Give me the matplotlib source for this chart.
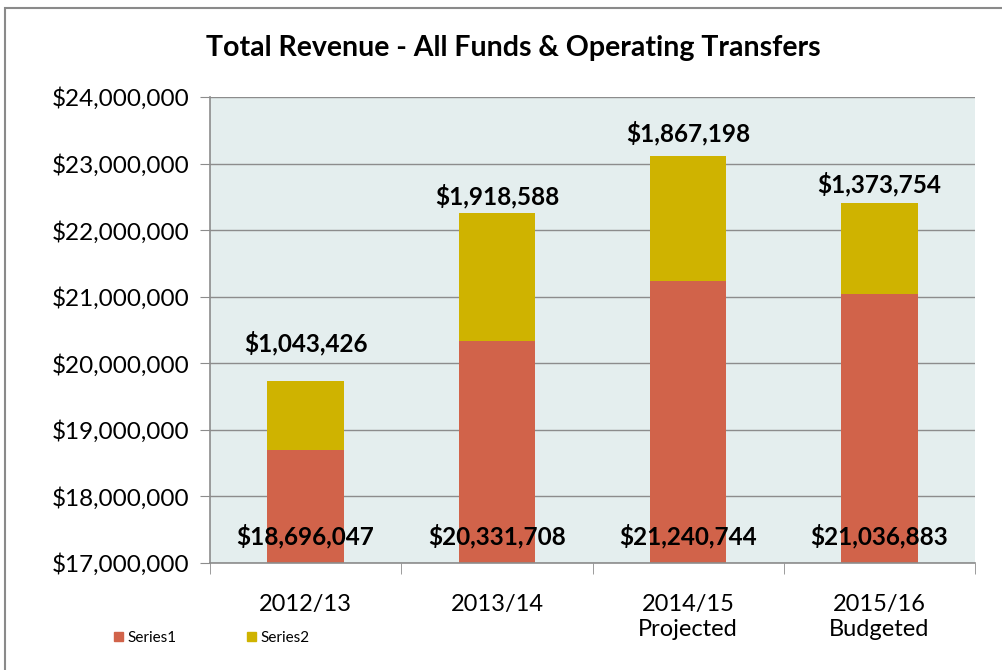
import matplotlib
matplotlib.use("Agg")
import matplotlib.pyplot as plt
from matplotlib.patches import Rectangle
from matplotlib.ticker import FuncFormatter, MultipleLocator

categories = ["2012/13", "2013/14", "2014/15\nProjected", "2015/16\nBudgeted"]
series1 = [18696047, 20331708, 21240744, 21036883]
series2 = [1043426, 1918588, 1867198, 1373754]

plt.rcParams['font.family'] = ['Lato', 'DejaVu Sans']

fig = plt.figure(figsize=(10.03, 6.70), dpi=100)
fig.patches.append(Rectangle((5/1003, -0.1), 1.2, 1 - 8/670 + 0.1, transform=fig.transFigure,
                             fill=False, edgecolor='#8a8a8a', linewidth=1.5))
ax = fig.add_axes([210/1003, 1 - 563/670, 765/1003, 466/670])
ax.set_facecolor('#E4EEEE')

c1 = '#D1634A'
c2 = '#CFB300'
x = list(range(len(categories)))
ax.bar(x, series1, width=0.40, color=c1, label='Series1', zorder=2)
ax.bar(x, series2, bottom=series1, width=0.40, color=c2, label='Series2', zorder=2)

ax.set_ylim(17000000, 24000000)
ax.set_xlim(-0.5, len(categories) - 0.5)
ax.yaxis.set_major_locator(MultipleLocator(1000000))
ax.yaxis.set_major_formatter(FuncFormatter(lambda v, p: f"${v:,.0f}"))
ax.grid(axis='y', color='#8c8c8c', linewidth=1, zorder=1)
ax.set_axisbelow(True)

for s in ['top', 'right']:
    ax.spines[s].set_visible(False)
for s in ['left', 'bottom']:
    ax.spines[s].set_color('#8c8c8c')
    ax.spines[s].set_linewidth(1.2)

ax.tick_params(axis='y', labelsize=17.5, length=7, color='#8c8c8c', pad=8)
ax.set_xticks(x)
ax.set_xticklabels(categories, fontsize=17, linespacing=1.25)
ax.tick_params(axis='x', length=0, pad=22)
ax.set_xticks([i + 0.5 for i in range(-1, len(categories))], minor=True)
ax.tick_params(axis='x', which='minor', length=8, color='#8c8c8c')

# manual label offsets (pixels above the bar top)
top_offsets_px = [37, 17, 23, 19]
for i in x:
    ax.text(i, 17000000 + 0.4e6, f"${series1[i]:,}", ha='center', va='center',
            fontsize=17.5, fontweight='bold', zorder=3)
    ax.annotate(f"${series2[i]:,}", (i, series1[i] + series2[i]),
                xytext=(0, top_offsets_px[i]), textcoords='offset pixels',
                ha='center', va='center', fontsize=17.5, fontweight='bold', zorder=3)

fig.text(513/1003, 1 - 48/670, "Total Revenue - All Funds & Operating Transfers",
         ha='center', va='center', fontsize=20.5, fontweight='bold')

fig.legend(handles=[Rectangle((0, 0), 1, 1, color=c1), Rectangle((0, 0), 1, 1, color=c2)],
           labels=['Series1', 'Series2'], loc='center left',
           bbox_to_anchor=(100/1003, 1 - 638/670), ncol=2, frameon=False, fontsize=11,
           handlelength=0.6, handleheight=0.6, handletextpad=0.3, columnspacing=4.6)

fig.savefig("out.png", dpi=100)
